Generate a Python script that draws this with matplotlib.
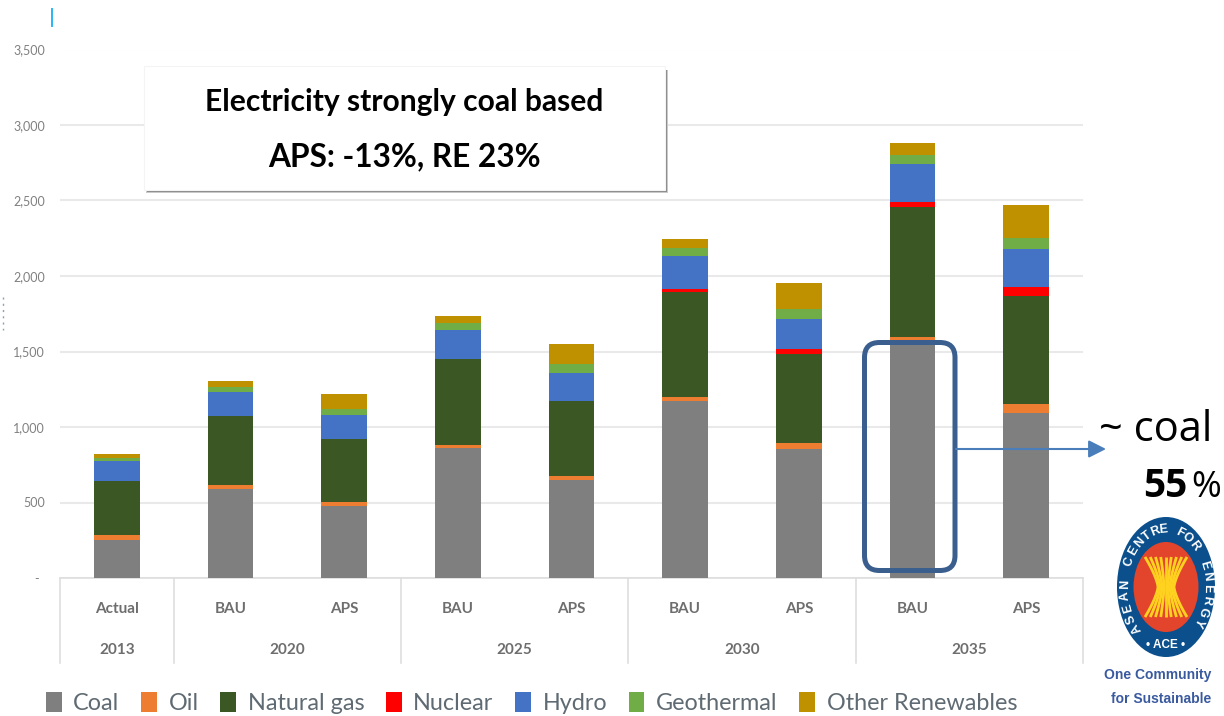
import numpy as np
import matplotlib
matplotlib.use("Agg")
import matplotlib.pyplot as plt
from matplotlib.patches import Rectangle, FancyBboxPatch, Ellipse, FancyArrowPatch
from matplotlib.transforms import ScaledTranslation, blended_transform_factory

# ---------- data ----------
scenarios = ["Actual", "BAU", "APS", "BAU", "APS", "BAU", "APS", "BAU", "APS"]
years = ["2013", "2020", "2025", "2030", "2035"]
year_centres = [0.5, 2, 4, 6, 8]
year_edges = [0, 1, 3, 5, 7, 9]

coal = [252, 591, 479, 863, 647, 1172, 852, 1578, 1091]
oil = [33, 25, 22, 20, 30, 27, 42, 18, 61]
natural_gas = [359, 455, 422, 567, 493, 695, 591, 859, 713]
nuclear = [0, 0, 0, 0, 0, 22, 29, 33, 60]
hydro = [133, 163, 154, 192, 185, 214, 201, 256, 252]
geothermal = [20, 33, 40, 49, 60, 57, 64, 59, 73]
other_renewables = [23, 38, 99, 46, 132, 60, 176, 80, 222]

series_names = ["Coal", "Oil", "Natural gas", "Nuclear", "Hydro", "Geothermal", "Other Renewables"]
series_values = [coal, oil, natural_gas, nuclear, hydro, geothermal, other_renewables]
series_colors = ["#7f7f7f", "#ed7d31", "#3b5723", "#ff0000", "#4472c4", "#70ad47", "#bf9000"]

y_ticks = [0, 500, 1000, 1500, 2000, 2500, 3000, 3500]
y_tick_labels = ["-", "500", "1,000", "1,500", "2,000", "2,500", "3,000", "3,500"]

# ---------- layout ----------
W, H = 1224, 716
NARROW = ["Lato", "DejaVu Sans"]
GRID = "#e9e9e9"
LABEL = "#6e6e6e"

fig = plt.figure(figsize=(W / 100, H / 100), dpi=100, facecolor="white")
L, R, T, B = 60, 1083, 49.5, 578
ax = fig.add_axes([L / W, 1 - B / H, (R - L) / W, (B - T) / H])
ax.set_xlim(0, 9)
ax.set_ylim(0, 3500)

x = np.arange(len(scenarios)) + 0.5
bottom = np.zeros(len(scenarios))
handles = []
for name, vals, col in zip(series_names, series_values, series_colors):
    h = ax.bar(x, vals, width=0.40, bottom=bottom, color=col, label=name, zorder=3, linewidth=0)
    handles.append(h)
    bottom += np.array(vals, dtype=float)

for s in ["top", "left", "right"]:
    ax.spines[s].set_visible(False)
ax.spines["bottom"].set_color("#dedede")
ax.spines["bottom"].set_linewidth(1.2)
ax.set_axisbelow(True)
ax.yaxis.grid(True, color=GRID, linewidth=1.5)
ax.xaxis.grid(False)

ax.set_yticks(y_ticks, y_tick_labels, fontfamily=NARROW, fontsize=9, color="#808080")
ax.tick_params(axis="y", length=0, pad=11)
zero_label = ax.get_yticklabels()[0]
zero_label.set_transform(zero_label.get_transform() + ScaledTranslation(-4 / 72, 0, fig.dpi_scale_trans))

ax.set_xticks(x, scenarios, fontfamily=NARROW, fontsize=11, fontweight="bold", color=LABEL)
ax.tick_params(axis="x", length=0, pad=17)

tr = blended_transform_factory(ax.transData, ax.transAxes)
px = 1 / (B - T)
for e in year_edges:
    ax.plot([e, e], [0, -85 * px], transform=tr, color="#dedede", lw=1.2, clip_on=False, zorder=2)
for c, yr in zip(year_centres, years):
    ax.text(c, -72 * px, yr, transform=tr, ha="center", va="center", fontfamily=NARROW,
            fontsize=11, fontweight="bold", color=LABEL)

leg = fig.legend(handles=handles, loc="lower left", bbox_to_anchor=(41 / W, -3 / H), ncol=7,
                 frameon=False, handlelength=0.68, handleheight=0.95, handletextpad=0.5,
                 columnspacing=0.92, borderpad=0.2, borderaxespad=0,
                 prop={"family": NARROW, "size": 16.8})
for t in leg.get_texts():
    t.set_color("#5f6a72")

# ---------- overlay in pixel coordinates ----------
ov = fig.add_axes([0, 0, 1, 1], zorder=10)
ov.set_xlim(0, W)
ov.set_ylim(H, 0)
ov.axis("off")
ov.patch.set_alpha(0)

# stray marks
ov.plot([52, 52], [9, 26], color="#29b6f6", lw=1.4)
ov.plot([3, 3], [297, 330], color="#8ea0ad", lw=1, ls=(0, (1.5, 3)))

# headline box with shadow
ov.add_patch(Rectangle((146, 70), 522, 123, fc="#c8c8c8", ec="none"))
ov.add_patch(Rectangle((147, 70), 520, 122, fc="#8a8a8a", ec="none"))
ov.add_patch(Rectangle((144, 66), 521, 124, fc="white", ec="#f4f4f4", lw=0.8))
ov.text(404, 102, "Electricity strongly coal based", ha="center", va="center",
        fontfamily=NARROW, fontweight="bold", fontsize=21.6, color="black")
ov.text(404, 157, "APS: -13%, RE 23%", ha="center", va="center",
        fontfamily=NARROW, fontweight="bold", fontsize=22.8, color="black")

# highlight box and arrow
ov.add_patch(FancyBboxPatch((864.5, 342.5), 90.5, 228, boxstyle="round,pad=0,rounding_size=15",
                            fc="none", ec="#3a5f8f", lw=3.6))
ov.add_patch(FancyArrowPatch((956, 449), (1106, 449), arrowstyle="-|>,head_length=0.75,head_width=0.38",
                             mutation_scale=14, color="#4a7ebb", lw=1.5, shrinkA=0, shrinkB=0))
ov.text(1099, 441, "~ coal", ha="left", va="baseline", fontfamily="Open Sans", fontsize=30, color="black")
ov.text(1143, 497, "55", ha="left", va="baseline", fontfamily="Open Sans", fontweight="bold", fontsize=28, color="black")
ov.text(1191, 497, "%", ha="left", va="baseline", fontfamily="Open Sans", fontsize=26, color="black")

# logo
cx, cy = 1166, 587
ov.add_patch(Ellipse((cx, cy), 98, 140, fc="#0b4f8c", ec="none"))
ov.add_patch(Ellipse((cx, cy), 65, 90, fc="#e2452b", ec="none"))
tt = np.linspace(-1, 1, 60)
for off in np.linspace(-1, 1, 9):
    xs = cx + off * (8 + 13 * np.abs(tt) ** 1.4)
    ys = cy + tt * 30
    ov.plot(xs, ys, color="#ffd21f", lw=2.0, solid_capstyle="butt")
ring = "ASEAN CENTRE FOR ENERGY"
a, b = 41, 57.5
for ch, deg in zip(ring, np.linspace(-135, 127, len(ring))):
    th = np.radians(deg)
    rot = np.degrees(np.arctan2(-b * np.sin(th), a * np.cos(th)))
    ov.text(cx + a * np.sin(th), cy - b * np.cos(th), ch, ha="center", va="center", rotation=rot,
            rotation_mode="anchor", fontfamily="Liberation Sans", fontweight="bold", fontsize=9, color="white")
ov.text(cx, 645, "• ACE •", ha="center", va="center", fontfamily="Liberation Sans",
        fontweight="bold", fontsize=8.5, color="white")
ov.text(1211, 675, "One Community", ha="right", va="center", fontfamily="Liberation Sans",
        fontweight="bold", fontsize=10, color="#3a5a9f")
ov.text(1211, 699, "for Sustainable", ha="right", va="center", fontfamily="Liberation Sans",
        fontweight="bold", fontsize=10, color="#3a5a9f")

fig.savefig("out.png", dpi=100)
